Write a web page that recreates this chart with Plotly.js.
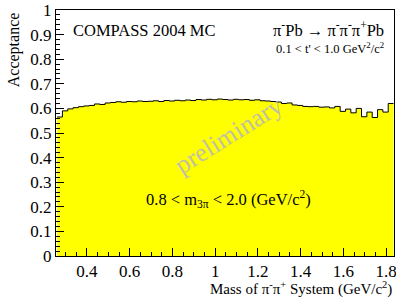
<!DOCTYPE html>
<html>
<head>
<meta charset="utf-8">
<script src="https://cdn.plot.ly/plotly-3.0.1.min.js"></script>
<style>html,body{margin:0;padding:0;background:#fff;}#plot{width:396px;height:297px;}</style>
</head>
<body>
<div id="plot"></div>
<script>
// Bin left edges (GeV/c^2), bin width 0.025
const binStart = 0.26;
const binWidth = 0.025;
// Acceptance per bin
const acceptance = [
  0.565, 0.590, 0.598, 0.603, 0.607, 0.610, 0.612, 0.618, 0.616, 0.622,
  0.624, 0.627, 0.625, 0.628, 0.627, 0.630, 0.628, 0.629, 0.631, 0.628,
  0.632, 0.630, 0.633, 0.631, 0.634, 0.632, 0.636, 0.634, 0.637, 0.635,
  0.638, 0.636, 0.634, 0.637, 0.635, 0.636, 0.633, 0.635, 0.631, 0.630,
  0.628, 0.626, 0.620, 0.622, 0.614, 0.612, 0.608, 0.607, 0.608, 0.605,
  0.606, 0.602, 0.608, 0.588, 0.597, 0.582, 0.600, 0.566, 0.585, 0.563,
  0.595, 0.585, 0.620
];
const xTickVals = [0.4, 0.6, 0.8, 1.0, 1.2, 1.4, 1.6, 1.8];
const yTickVals = [0, 0.1, 0.2, 0.3, 0.4, 0.5, 0.6, 0.7, 0.8, 0.9, 1];

const edges = acceptance.map((_, i) => +(binStart + i * binWidth).toFixed(4));
edges.push(+(binStart + acceptance.length * binWidth).toFixed(4));
const yStep = acceptance.concat([acceptance[acceptance.length - 1]]);

const FONT = 'Liberation Serif, Times New Roman, serif';

const trace = {
  type: 'scatter',
  mode: 'lines',
  x: edges,
  y: yStep,
  line: {shape: 'hv', color: '#000', width: 1},
  fill: 'tozeroy',
  fillcolor: '#ffff00',
  hoverinfo: 'skip'
};

const axisCommon = {
  showgrid: false, zeroline: false,
  showline: true, mirror: true, linecolor: '#000', linewidth: 1,
  ticks: 'inside', ticklen: 8, tickcolor: '#000', tickwidth: 1,
  ticklabeloverflow: 'allow',
  tickfont: {family: FONT, size: 17, color: '#000'}
};

const layout = {
  width: 396, height: 297,
  margin: {l: 56, r: 2, t: 10, b: 41},
  paper_bgcolor: '#fff', plot_bgcolor: '#fff',
  showlegend: false,
  xaxis: Object.assign({}, axisCommon, {
    range: [0.255, 1.837],
    tickvals: xTickVals,
    ticktext: xTickVals.map(v => String(+v.toFixed(1))),
    minor: {dtick: 0.05, tick0: 0, ticks: 'inside', ticklen: 4, tickcolor: '#000', showgrid: false}
  }),
  yaxis: Object.assign({}, axisCommon, {
    range: [0, 1],
    tickvals: yTickVals,
    ticktext: yTickVals.map(v => String(+v.toFixed(1))),
    minor: {dtick: 0.02, tick0: 0, ticks: 'inside', ticklen: 4, tickcolor: '#000', showgrid: false}
  }),
  annotations: [
    {text: 'COMPASS 2004 MC', xref: 'paper', yref: 'paper', x: 0.045, y: 0.915,
     xanchor: 'left', yanchor: 'middle', showarrow: false,
     font: {family: FONT, size: 16.5, color: '#000'}},
    {text: 'π<sup>-</sup>Pb → π<sup>-</sup>π<sup>-</sup>π<sup>+</sup>Pb', xref: 'paper', yref: 'paper', x: 0.975, y: 0.92,
     xanchor: 'right', yanchor: 'middle', showarrow: false,
     font: {family: FONT, size: 16.5, color: '#000'}},
    {text: "0.1 < t' < 1.0 GeV<sup>2</sup>/c<sup>2</sup>", xref: 'paper', yref: 'paper', x: 0.975, y: 0.845,
     xanchor: 'right', yanchor: 'middle', showarrow: false,
     font: {family: FONT, size: 12.5, color: '#000'}},
    {text: 'preliminary', xref: 'paper', yref: 'paper', x: 0.51, y: 0.49,
     xanchor: 'center', yanchor: 'middle', showarrow: false, textangle: -32,
     font: {family: FONT, size: 26, color: 'rgba(185,185,185,0.9)'}},
    {text: '0.8 < m<sub>3π</sub> < 2.0 (GeV/c<sup>2</sup>)', xref: 'paper', yref: 'paper', x: 0.51, y: 0.23,
     xanchor: 'center', yanchor: 'middle', showarrow: false,
     font: {family: FONT, size: 16.5, color: '#000'}},
    {text: 'Acceptance', xref: 'paper', yref: 'paper', x: -0.125, y: 1.0,
     xanchor: 'center', yanchor: 'top', showarrow: false, textangle: -90,
     font: {family: FONT, size: 16, color: '#000'}},
    {text: 'Mass of π<sup>-</sup>π<sup>+</sup> System (GeV/c<sup>2</sup>)', xref: 'paper', yref: 'paper', x: 1.0, y: -0.133,
     xanchor: 'right', yanchor: 'middle', showarrow: false,
     font: {family: FONT, size: 15, color: '#000'}}
  ]
};

Plotly.newPlot('plot', [trace], layout, {staticPlot: true, displayModeBar: false});
</script>
</body>
</html>
